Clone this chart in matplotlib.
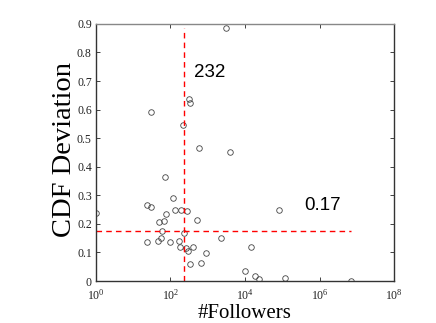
import numpy as np
import matplotlib
matplotlib.use("Agg")
import matplotlib.pyplot as plt

serif = "Liberation Serif"
plt.rcParams["mathtext.fontset"] = "custom"
plt.rcParams["mathtext.rm"] = serif
plt.rcParams["mathtext.it"] = serif
plt.rcParams["mathtext.bf"] = serif

# log10(#followers) and CDF deviation
log_followers = [0.0, 1.38, 1.485, 2.08, 1.37, 1.70, 1.826, 1.87, 1.75, 1.77,
                 1.67, 2.0, 2.11, 2.27, 2.43, 2.24, 2.25, 2.36, 2.41, 2.47,
                 2.52, 2.60, 2.72, 2.82, 2.95, 3.35, 4.0, 4.17, 4.27, 4.38,
                 4.90, 5.07, 6.85, 1.49, 2.34, 2.50, 2.52, 2.76, 3.61, 1.84,
                 3.50]
deviation = [0.237, 0.266, 0.259, 0.290, 0.136, 0.205, 0.211, 0.233, 0.149, 0.176,
             0.139, 0.135, 0.249, 0.250, 0.245, 0.140, 0.120, 0.167, 0.116, 0.104,
             0.061, 0.118, 0.215, 0.062, 0.097, 0.152, 0.034, 0.118, 0.016, 0.008,
             0.247, 0.012, 0.000, 0.591, 0.546, 0.636, 0.622, 0.467, 0.453, 0.364,
             0.885]
followers = [10 ** v for v in log_followers]

median_followers = 232
median_deviation = 0.175
label_x = "232"
label_y = "0.17"

fig = plt.figure(figsize=(4.36, 3.23), dpi=100)
ax = fig.add_axes([0.220, 0.130, 0.684, 0.796])

ax.plot(followers, deviation, linestyle="none", marker="o", markersize=4,
        markerfacecolor="none", markeredgecolor="#444444", markeredgewidth=0.6)

ax.plot([median_followers, median_followers], [min(deviation), max(deviation)],
        color="red", linestyle=(0, (4, 3)), linewidth=1.0)
ax.plot([min(followers), max(followers)], [median_deviation, median_deviation],
        color="red", linestyle=(0, (4, 3)), linewidth=1.0)

ax.set_xscale("log")
ax.set_xlim(1, 1e8)
ax.set_ylim(0, 0.9)
ax.set_xticks([1, 1e2, 1e4, 1e6, 1e8])
ax.xaxis.set_minor_locator(matplotlib.ticker.NullLocator())
ax.set_yticks(np.arange(0, 0.91, 0.1))
ax.set_yticklabels(["0"] + ["%.1f" % v for v in np.arange(0.1, 0.91, 0.1)])
ax.set_xticklabels([r"$10^{0}$", r"$10^{2}$", r"$10^{4}$", r"$10^{6}$", r"$10^{8}$"])

for lab in ax.get_xticklabels() + ax.get_yticklabels():
    lab.set_fontfamily(serif)
    lab.set_fontsize(8.5)

ax.tick_params(direction="in", length=3, width=0.6, top=True, right=True,
               colors="#222222", pad=3)
ax.tick_params(axis="x", pad=5)
for s in ax.spines.values():
    s.set_linewidth(1.0)
    s.set_color("#333333")
ax.spines["top"].set_color("#888888")

ax.set_xlabel("#Followers", fontfamily=serif, fontsize=15)
ax.xaxis.set_label_coords(0.5, -0.088)
ax.xaxis.label.set_va("top")
ax.set_ylabel("CDF Deviation", fontfamily=serif, fontsize=20.5)
ax.yaxis.set_label_coords(-0.064, 0.51)

ax.text(10 ** 2.62, 0.73, label_x, fontfamily="Liberation Sans", fontsize=13.5,
        va="center", ha="left")
ax.text(10 ** 5.6, 0.265, label_y, fontfamily="Liberation Sans", fontsize=13.5,
        va="center", ha="left")

fig.savefig("out.png", dpi=100)
